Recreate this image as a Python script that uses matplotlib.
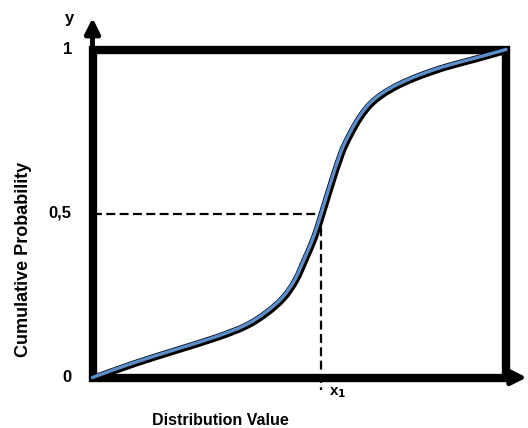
import numpy as np
import matplotlib.pyplot as plt
from matplotlib.patches import Rectangle, PathPatch
from matplotlib.path import Path
import matplotlib.patheffects as pe

# curve (x: distribution value, y: cumulative probability)
curve_x = [0.0, 0.1, 0.2, 0.3, 0.37, 0.42, 0.46, 0.49, 0.515, 0.535, 0.553,
           0.575, 0.6, 0.62, 0.645, 0.67, 0.7, 0.74, 0.79, 0.85, 0.92, 1.0]
curve_y = [0.0, 0.045, 0.085, 0.125, 0.16, 0.2, 0.245, 0.3, 0.37, 0.43, 0.5,
           0.59, 0.685, 0.74, 0.795, 0.835, 0.866, 0.895, 0.922, 0.948, 0.972, 1.0]
x1 = 0.553
y_ticks = [0, 0.5, 1]
y_tick_labels = ["0", "0,5", "1"]

plt.rcParams['font.family'] = ['Liberation Sans', 'DejaVu Sans']


def smooth_path(xs, ys):
    # catmull-rom through the points, drawn as cubic bezier segments
    p = np.column_stack([xs, ys])
    p = np.vstack([p[0], p, p[-1]])
    verts = [p[1]]
    codes = [Path.MOVETO]
    for i in range(1, len(p) - 2):
        c1 = p[i] + (p[i + 1] - p[i - 1]) / 6
        c2 = p[i + 1] - (p[i + 2] - p[i]) / 6
        verts += [c1, c2, p[i + 1]]
        codes += [Path.CURVE4] * 3
    return Path(verts, codes)


fig = plt.figure(figsize=(5.28, 4.28), dpi=100)
ax = fig.add_axes([92.5 / 528, 50.5 / 428, 413.5 / 528, 328 / 428])
ax.set_xlim(0, 1)
ax.set_ylim(0, 1)
for s in ax.spines.values():
    s.set_visible(False)
ax.set_xticks([])
ax.set_yticks([])

# frame
ax.add_patch(Rectangle((0, 0), 1, 1, fill=False, lw=6.0, ec='black',
                       joinstyle='miter', clip_on=False, zorder=3))

# axis arrows
ax.annotate('', xy=(0, 1.096), xytext=(0, 1.0),
            arrowprops=dict(arrowstyle='-|>,head_width=0.45,head_length=0.9',
                            lw=3.5, color='black', shrinkA=0, shrinkB=0),
            annotation_clip=False)
ax.annotate('', xy=(1.05, 0), xytext=(1.0, 0),
            arrowprops=dict(arrowstyle='-|>,head_width=0.45,head_length=0.9',
                            lw=3.5, color='black', shrinkA=0, shrinkB=0),
            annotation_clip=False)

# guide lines
ax.plot([0, x1], [0.5, 0.5], ls=(0, (4, 2)), lw=1.6, color='black', zorder=2)
ax.plot([x1, x1], [0.5, -0.038], ls=(0, (4, 2)), lw=1.6, color='black',
        zorder=2, clip_on=False)

# curve with a dark shadow outline
curve = PathPatch(smooth_path(curve_x, curve_y), fill=False, ec='#5b8fcc',
                  lw=2.4, capstyle='round', clip_on=False, zorder=5,
                  path_effects=[pe.Stroke(linewidth=5.0, foreground='black',
                                          offset=(0.6, -0.6)), pe.Normal()])
ax.add_patch(curve)

# labels
for v, t in zip(y_ticks, y_tick_labels):
    ax.text(-0.05, v, t, ha='right', va='center', fontsize=12, fontweight='bold')
ax.text(-0.045, 1.095, 'y', ha='right', va='center', fontsize=12, fontweight='bold')
ax.text(x1 + 0.018, -0.045, 'x$_\\mathbf{1}$', ha='left', va='center', fontsize=11,
        fontweight='bold')
ax.text(0.31, -0.13, 'Distribution Value', ha='center', va='center', fontsize=11.5,
        fontweight='bold')
ax.text(-0.168, 0.36, 'Cumulative Probability', ha='center', va='center',
        rotation=90, fontsize=13, fontweight='bold')

fig.savefig('out.png', dpi=100)
